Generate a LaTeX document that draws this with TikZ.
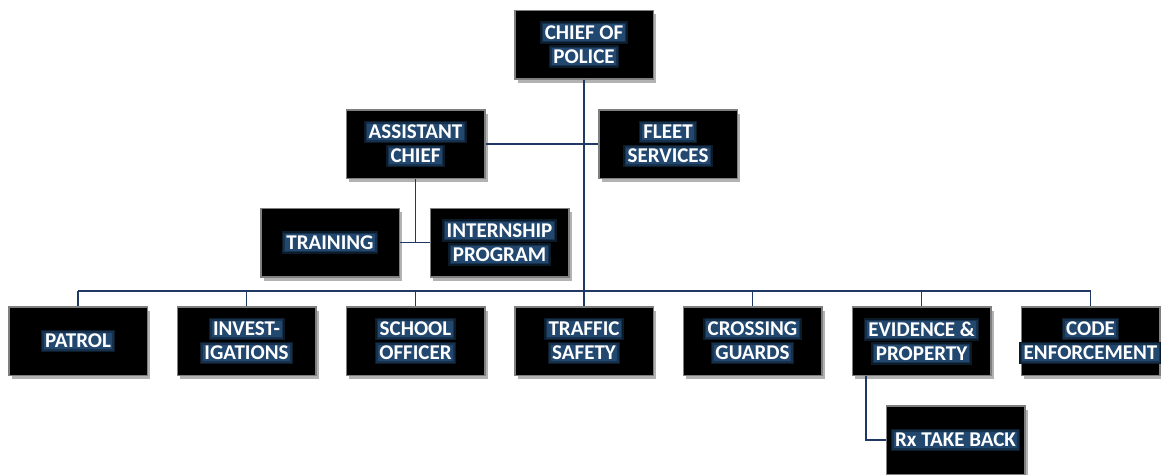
\documentclass[tikz,border=0pt]{standalone}
\usepackage{fontspec}
\setmainfont{Carlito}
\usetikzlibrary{shadows}
\definecolor{linec}{HTML}{1F3864}
\definecolor{glowc}{HTML}{2A5A8C}
\colorlet{hazeA}{glowc!30!black}
\colorlet{hazeB}{glowc!55!black}
\colorlet{hazeC}{glowc!80!black}
\definecolor{boxborder}{HTML}{7F7F7F}
\newsavebox\glbox
\newlength\glh
\newcommand\hazel[2]{\hspace*{-#1}\textcolor{#2}{\rule[-#1]{\dimexpr\wd\glbox+2\dimexpr#1\relax\relax}{\dimexpr\glh+2\dimexpr#1\relax\relax}}}
\newcommand\gl[1]{\sbox\glbox{#1}\setlength\glh{\fontcharht\font`X}%
\leavevmode\rlap{\smash{\hazel{4.5pt}{hazeA}}}\rlap{\smash{\hazel{3pt}{hazeB}}}\rlap{\smash{\hazel{1.5pt}{hazeC}}}\usebox\glbox}
\tikzset{
 orgbox/.style={draw=boxborder, line width=1.5pt, fill=black, minimum width=138.5pt, minimum height=68.5pt, inner sep=0pt, text=white, font=\fontsize{21}{24}\selectfont\bfseries, align=center, drop shadow={shadow xshift=3pt, shadow yshift=-4pt, fill=black, opacity=0.3}},
 link/.style={draw=linec, line width=1.6pt}
}
\begin{document}
\begin{tikzpicture}[x=1pt,y=-1pt]
\useasboundingbox (0,0) rectangle (1161,474);
\node[orgbox] (chief) at (584,44.5) {\gl{CHIEF OF}\\\gl{POLICE}};
\node[orgbox] (asst) at (415.5,144) {\gl{ASSISTANT}\\\gl{CHIEF}};
\node[orgbox] (fleet) at (668,144) {\gl{FLEET}\\\gl{SERVICES}};
\node[orgbox] (train) at (330,242.5) {\gl{TRAINING}};
\node[orgbox] (intern) at (499.5,242.5) {\gl{INTERNSHIP}\\\gl{PROGRAM}};
\node[orgbox] (patrol) at (78,341) {\gl{PATROL}};
\node[orgbox] (invest) at (246.5,341) {\gl{INVEST-}\\\gl{IGATIONS}};
\node[orgbox] (school) at (415.5,341) {\gl{SCHOOL}\\\gl{OFFICER}};
\node[orgbox] (traffic) at (584,341) {\gl{TRAFFIC}\\\gl{SAFETY}};
\node[orgbox] (cross) at (752.5,341) {\gl{CROSSING}\\\gl{GUARDS}};
\node[orgbox] (evid) at (921.5,341) {\gl{EVIDENCE \&}\\\gl{PROPERTY}};
\node[orgbox] (code) at (1090.5,341) {\gl{CODE}\\\gl{ENFORCEMENT}};
\node[orgbox] (rx) at (955.5,440) {\gl{Rx TAKE BACK}};
\coordinate (bus) at (584,291);
\draw[link] (chief.south) -- (chief |- bus);
\draw[link] (patrol |- bus) -- (code |- bus);
\foreach \n in {patrol,invest,school,traffic,cross,evid,code}{
  \draw[link] (\n |- bus) -- (\n.north);
}
\draw[link] (asst.east) -- (fleet.west);
\draw[link] (asst.south) -- (asst.south |- train.east);
\draw[link] (train.east) -- (intern.west);
\draw[link] ([xshift=-55.5pt]evid.south) |- (rx.west);
\end{tikzpicture}
\end{document}
